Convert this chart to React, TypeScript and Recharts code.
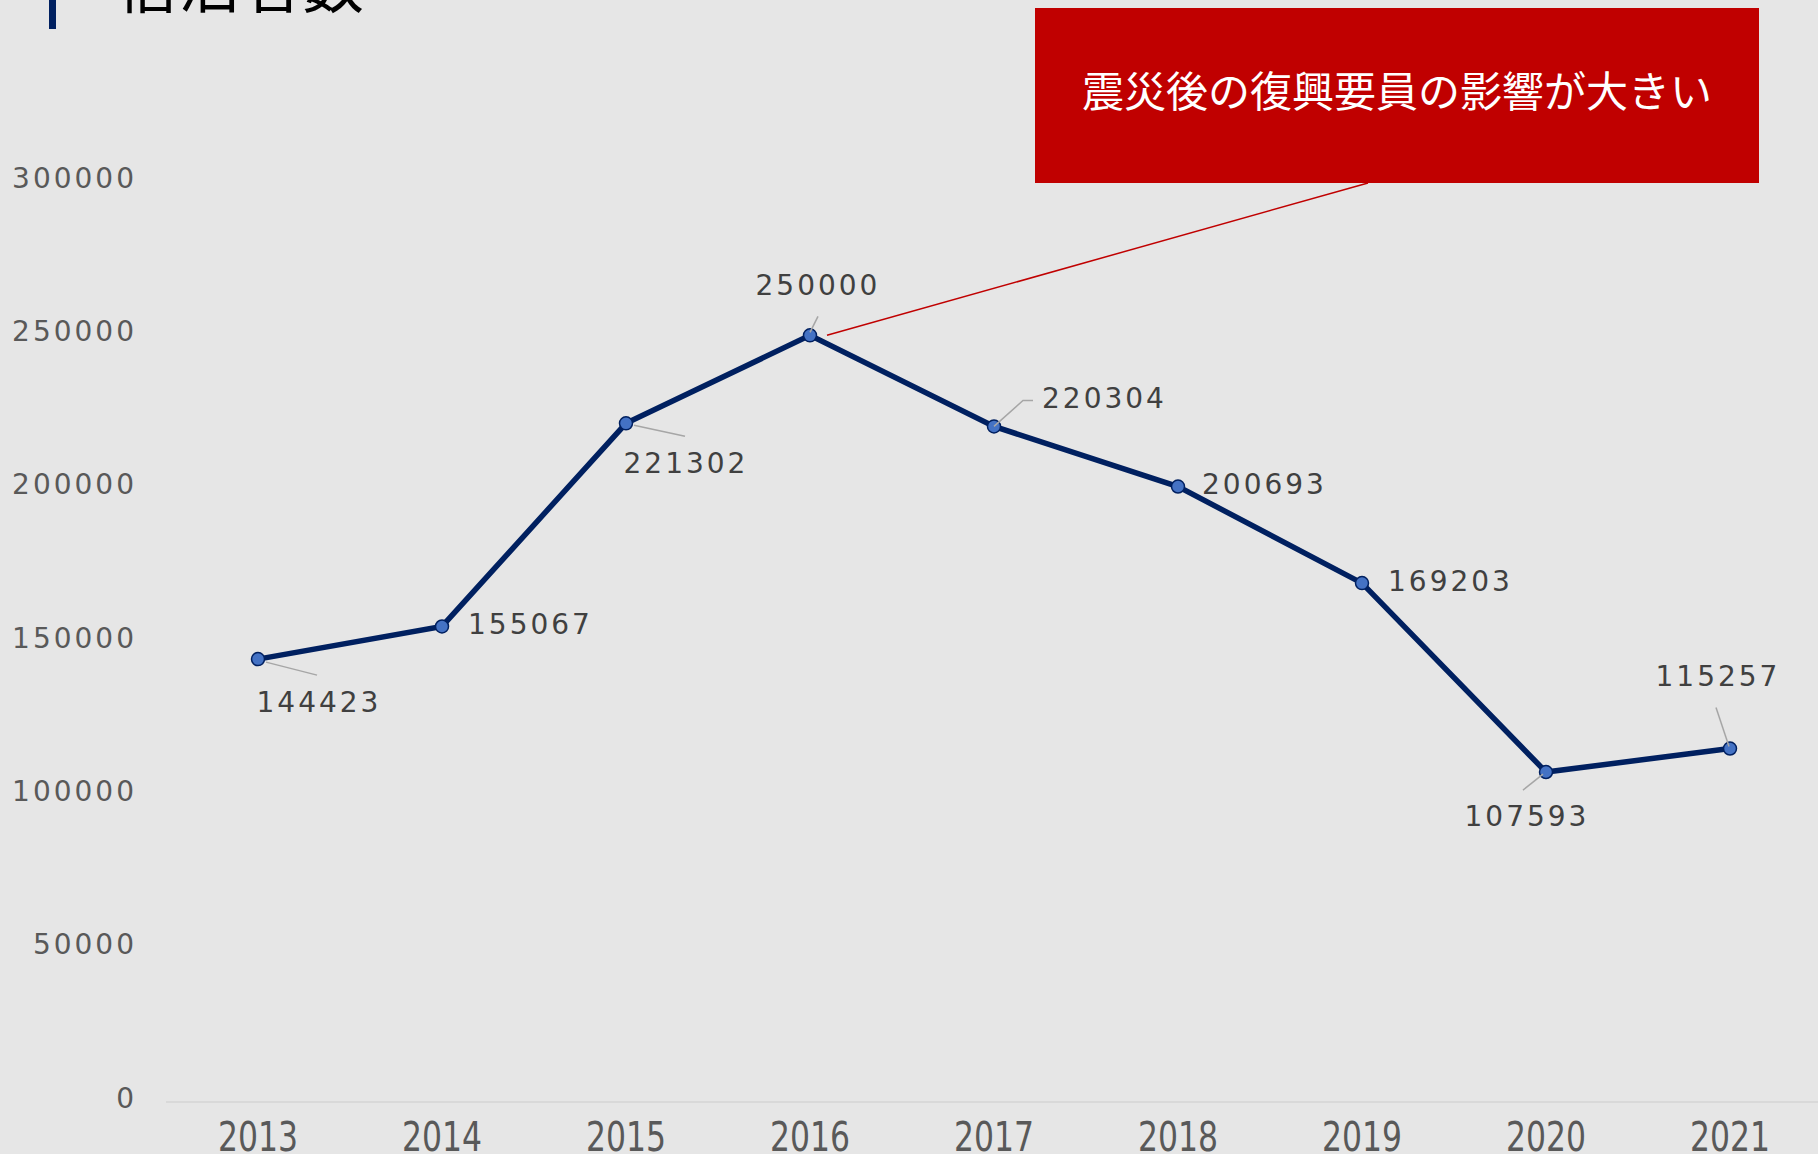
import { LineChart, Line, XAxis, YAxis, LabelList } from 'recharts';

const years = ['2013', '2014', '2015', '2016', '2017', '2018', '2019', '2020', '2021'];
const guests = [144423, 155067, 221302, 250000, 220304, 200693, 169203, 107593, 115257];
const yTicks = [0, 50000, 100000, 150000, 200000, 250000, 300000];
const title = '宿泊者数';
const note = '震災後の復興要員の影響が大きい';

const chartData = years.map((year, i) => ({ year, guests: guests[i] }));

// where each value label sits, relative to its point (px)
const labelSpots: { dx: number; dy: number; anchor: 'start' | 'middle'; leader?: number[][] }[] = [
    { dx: 61, dy: 43, anchor: 'middle', leader: [[8, 3], [59, 16]] },
    { dx: 26, dy: -2, anchor: 'start' },
    { dx: 60, dy: 40, anchor: 'middle', leader: [[8, 2], [59, 13]] },
    { dx: 8, dy: -50, anchor: 'middle', leader: [[0, -3], [8, -19]] },
    { dx: 48, dy: -28, anchor: 'start', leader: [[0, 0], [29, -26], [39, -26]] },
    { dx: 24, dy: -2, anchor: 'start' },
    { dx: 26, dy: -2, anchor: 'start' },
    { dx: -19, dy: 44, anchor: 'middle', leader: [[-3, 2], [-23, 18]] },
    { dx: -12, dy: -72, anchor: 'middle', leader: [[-1, -2], [-14, -41]] },
];

const NUM_FONT = '"DejaVu Sans", sans-serif';
const CALLOUT_BOTTOM = { x: 1368, y: 183 };

const ValueLabel = (props: any) => {
    const x = props.x ?? props.viewBox?.x;
    const y = props.y ?? props.viewBox?.y;
    const spot = labelSpots[props.index];
    if (x == null || y == null || !spot) return null;
    return (
        <g>
            {spot.leader && (
                <polyline
                    points={spot.leader.map(([a, b]) => `${x + a},${y + b}`).join(' ')}
                    fill="none"
                    stroke="#A6A6A6"
                    strokeWidth={1.5}
                />
            )}
            {props.index === 3 && (
                <line x1={x + 17} y1={y} x2={CALLOUT_BOTTOM.x} y2={CALLOUT_BOTTOM.y} stroke="#C00000" strokeWidth={1.5} />
            )}
            <text
                x={x + spot.dx}
                y={y + spot.dy}
                textAnchor={spot.anchor}
                dominantBaseline="central"
                fontFamily={NUM_FONT}
                fontSize={28}
                letterSpacing={3}
                fill="#404040"
            >
                {props.value}
            </text>
        </g>
    );
};

const YTick = ({ y, payload }: any) => (
    <text
        x={137}
        y={y - 4}
        textAnchor="end"
        dominantBaseline="central"
        fontFamily={NUM_FONT}
        fontSize={28}
        letterSpacing={3}
        fill="#595959"
    >
        {payload.value}
    </text>
);

const XTick = ({ x, y, payload }: any) => (
    <text
        x={x}
        y={y + 27}
        textAnchor="middle"
        dominantBaseline="central"
        fontFamily='"DejaVu Sans Condensed", "DejaVu Sans", sans-serif'
        fontSize={40}
        textLength={80}
        lengthAdjust="spacingAndGlyphs"
        fill="#595959"
    >
        {payload.value}
    </text>
);

export default function App() {
    return (
        <div
            style={{
                position: 'absolute',
                left: 0,
                top: 0,
                width: 1818,
                height: 1154,
                overflow: 'hidden',
                background: '#E6E6E6',
            }}
        >
            <LineChart
                width={1822}
                height={1154}
                data={chartData}
                margin={{ top: 182, right: 0, bottom: 0, left: 0 }}
            >
                <XAxis
                    dataKey="year"
                    stroke="#D9D9D9"
                    strokeWidth={2}
                    tickLine={false}
                    tick={<XTick />}
                    height={52}
                    padding={{ left: 92, right: 92 }}
                />
                <YAxis
                    width={166}
                    domain={[0, 300000]}
                    ticks={yTicks}
                    axisLine={false}
                    tickLine={false}
                    tick={<YTick />}
                />
                <Line
                    type="linear"
                    dataKey="guests"
                    stroke="#002060"
                    strokeWidth={5.5}
                    dot={{ r: 6.5, fill: '#4472C4', stroke: '#002060', strokeWidth: 1.5 }}
                    isAnimationActive={false}
                >
                    <LabelList dataKey="guests" content={<ValueLabel />} />
                </Line>
            </LineChart>

            <svg
                width={1818}
                height={1154}
                style={{ position: 'absolute', left: 0, top: 0, pointerEvents: 'none' }}
            >
                <rect x={49} y={0} width={7} height={29} fill="#002060" />
                <text x={116} y={8} fontFamily='"Noto Sans CJK JP", sans-serif' fontSize={62} fill="#000000">
                    {title}
                </text>
                <rect x={1035} y={8} width={724} height={175} fill="#C00000" />
                <text
                    x={1397}
                    y={88}
                    textAnchor="middle"
                    dominantBaseline="central"
                    fontFamily='"Noto Sans CJK JP", sans-serif'
                    fontSize={42}
                    fill="#FFFFFF"
                >
                    {note}
                </text>
            </svg>
        </div>
    );
}
